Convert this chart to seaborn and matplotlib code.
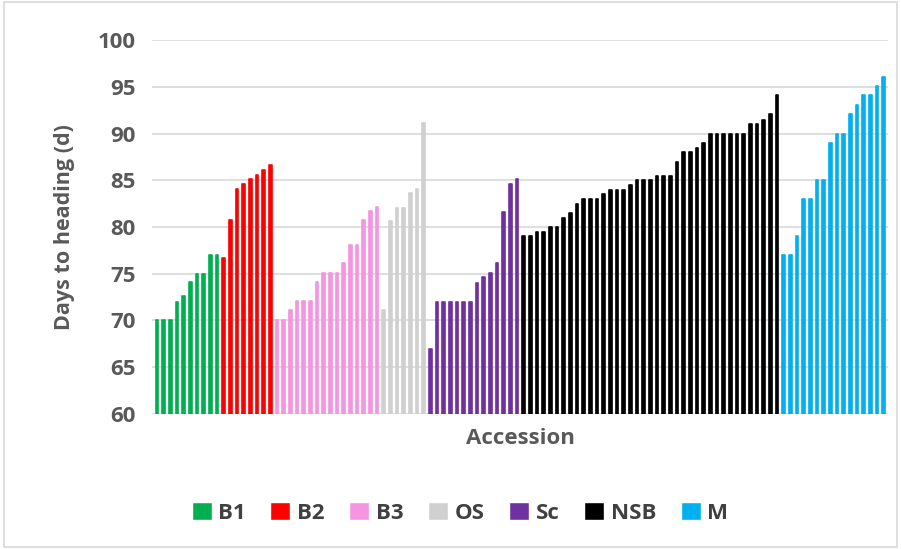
import pandas as pd
import matplotlib.pyplot as plt
import seaborn as sns
from matplotlib.patches import Rectangle

# days to heading per accession
b1 = [70, 70, 70, 72, 72.6, 74.1, 75, 75, 77, 77]
b2 = [76.7, 80.7, 84.1, 84.6, 85.1, 85.6, 86.1, 86.6]
b3 = [70.1, 70.1, 71.1, 72.1, 72.1, 72.1, 74.1, 75.1, 75.1, 75.1, 76.1, 78.1, 78.1, 80.7, 81.7, 82.1]
os_ = [71.1, 80.6, 82, 82, 83.6, 84.1, 91.1]
sc = [67, 72, 72, 72, 72, 72, 72, 74, 74.6, 75.1, 76.1, 81.6, 84.6, 85.1]
nsb = [79, 79, 79.5, 79.5, 80, 80, 81, 81.5, 82.5, 83, 83, 83, 83.5, 84, 84, 84, 84.5, 85, 85, 85,
       85.5, 85.5, 85.5, 87, 88, 88, 88.5, 89, 90, 90, 90, 90, 90, 90, 91, 91, 91.5, 92.1, 94.1]
m = [77, 77, 79, 83, 83, 85, 85, 89, 90, 90, 92.1, 93.1, 94.1, 94.1, 95.1, 96.1]

groups = ['B1', 'B2', 'B3', 'OS', 'Sc', 'NSB', 'M']
colors = ['#00B050', '#FF0000', '#F794E1', '#D0D0D0', '#7030A0', '#000000', '#00B0F0']
values = [b1, b2, b3, os_, sc, nsb, m]

rows = []
for g, vals in zip(groups, values):
    for v in vals:
        rows.append({'group': g, 'days': v})
df = pd.DataFrame(rows)
df['idx'] = range(len(df))

sns.set_style('white')
plt.rcParams['font.family'] = ['Open Sans', 'DejaVu Sans']
txt = '#595959'

fig = plt.figure(figsize=(9.01, 5.49), dpi=100)
ax = fig.add_axes([0.169, 0.246, 0.817, 0.681])

sns.barplot(data=df, x='idx', y='days', hue='group', hue_order=groups,
            palette=colors, dodge=False, width=0.42, saturation=1, ax=ax)

# rounded bar ends
for p in ax.patches:
    p.set_edgecolor(p.get_facecolor())
    p.set_linewidth(1.2)
    p.set_joinstyle('round')
    p.set_capstyle('round')

ax.set_ylim(60, 100)
ax.set_xlim(-0.7, len(df) - 0.3)
ax.set_yticks(range(60, 101, 5))
ax.set_xticks([])
ax.yaxis.grid(True, color='#D9D9D9', linewidth=1.2)
ax.set_axisbelow(True)
for s in ax.spines.values():
    s.set_visible(False)
ax.tick_params(axis='y', length=0, pad=12, labelsize=16, labelcolor=txt)
for lab in ax.get_yticklabels():
    lab.set_fontweight('bold')

ax.set_ylabel('Days to heading (d)', fontsize=15.5, fontweight='bold', color=txt, labelpad=16)
ax.set_xlabel('Accession', fontsize=16, fontweight='bold', color=txt, labelpad=10)

sns.move_legend(ax, 'center', bbox_to_anchor=(0.418, -0.264), ncol=7, frameon=False,
                title=None, fontsize=16, handlelength=0.9, handleheight=0.9,
                handletextpad=0.3, columnspacing=1.1)
leg = ax.get_legend()
for t in leg.get_texts():
    t.set_fontweight('bold')
    t.set_color('#404040')

fig.patches.append(Rectangle((0.004, 0.004), 0.992, 0.992, transform=fig.transFigure,
                             fill=False, edgecolor='#D9D9D9', linewidth=1.2))

fig.savefig('out.png', dpi=100)
